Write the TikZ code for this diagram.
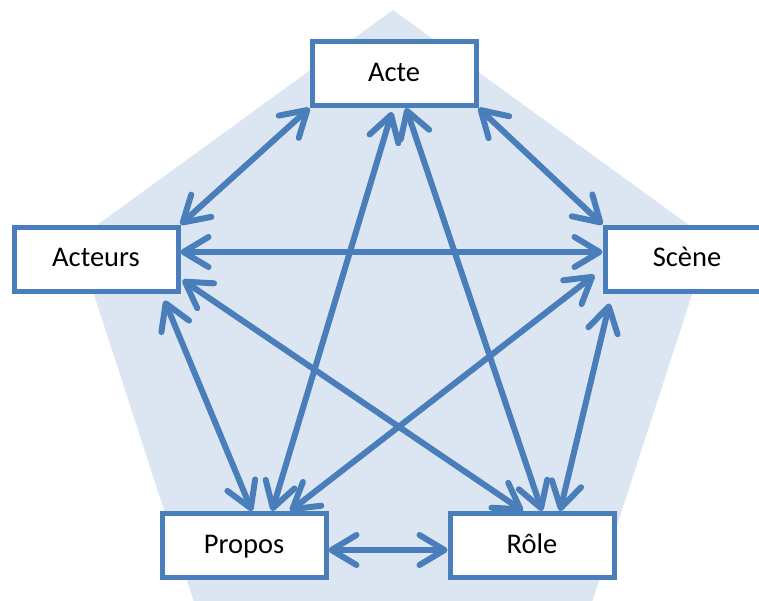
\documentclass[tikz,border=0pt]{standalone}
\usepackage{fontspec}
\setmainfont{Carlito}
\usetikzlibrary{arrows.meta}
\definecolor{lineblue}{HTML}{4A7EBB}
\definecolor{pentafill}{HTML}{DCE6F2}
\begin{document}
\begin{tikzpicture}[x=1pt,y=-1pt,
  box/.style={draw=lineblue, fill=white, line width=5pt, minimum width=164pt, minimum height=64pt, inner sep=0pt, text height=21pt, text depth=6pt, font=\fontsize{28.5}{34}\selectfont, text=black},
  link/.style={draw=lineblue, line width=6pt, line cap=round, >={Straight Barb[length=25pt,width=30pt,round]}, <->}]
\useasboundingbox (0,0) rectangle (759,600);
\fill[pentafill] (393,10) -- (709.7,240.1) -- (588.7,612.4) -- (197.3,612.4) -- (76.3,240.1) -- cycle;
\node[box] (acte) at (394,73.5) {Acte};
\node[box] (acteurs) at (96,259) {Acteurs};
\node[box] (scene) at (687,259) {Scène};
\node[box] (propos) at (244,545.5) {Propos};
\node[box] (role) at (532,545.5) {Rôle};
\draw[link] (acte.south west) -- (acteurs.north east);
\draw[link] (acte.south east) -- (scene.north west);
\draw[link] ([yshift=7pt]acteurs.east) -- ([yshift=7pt]scene.west);
\draw[link] ([xshift=-2pt,yshift=-4pt]acte.south) -- ([xshift=28pt]propos.north);
\draw[link] ([xshift=12pt]acte.south) -- ([xshift=10pt]role.north);
\draw[link] ([xshift=-16pt,yshift=-7pt]acteurs.south east) -- ([xshift=8pt]propos.north);
\draw[link] ([xshift=2pt,yshift=-21pt]acteurs.east) -- ([xshift=-9pt]role.north);
\draw[link] ([xshift=-8pt,yshift=-16pt]scene.west) -- ([xshift=46pt]propos.north);
\draw[link] ([xshift=7pt,yshift=-10pt]scene.south west) -- ([xshift=28pt]role.north);
\draw[link] ([yshift=-4.5pt]propos.east) -- ([yshift=-4.5pt]role.west);
\end{tikzpicture}
\end{document}
